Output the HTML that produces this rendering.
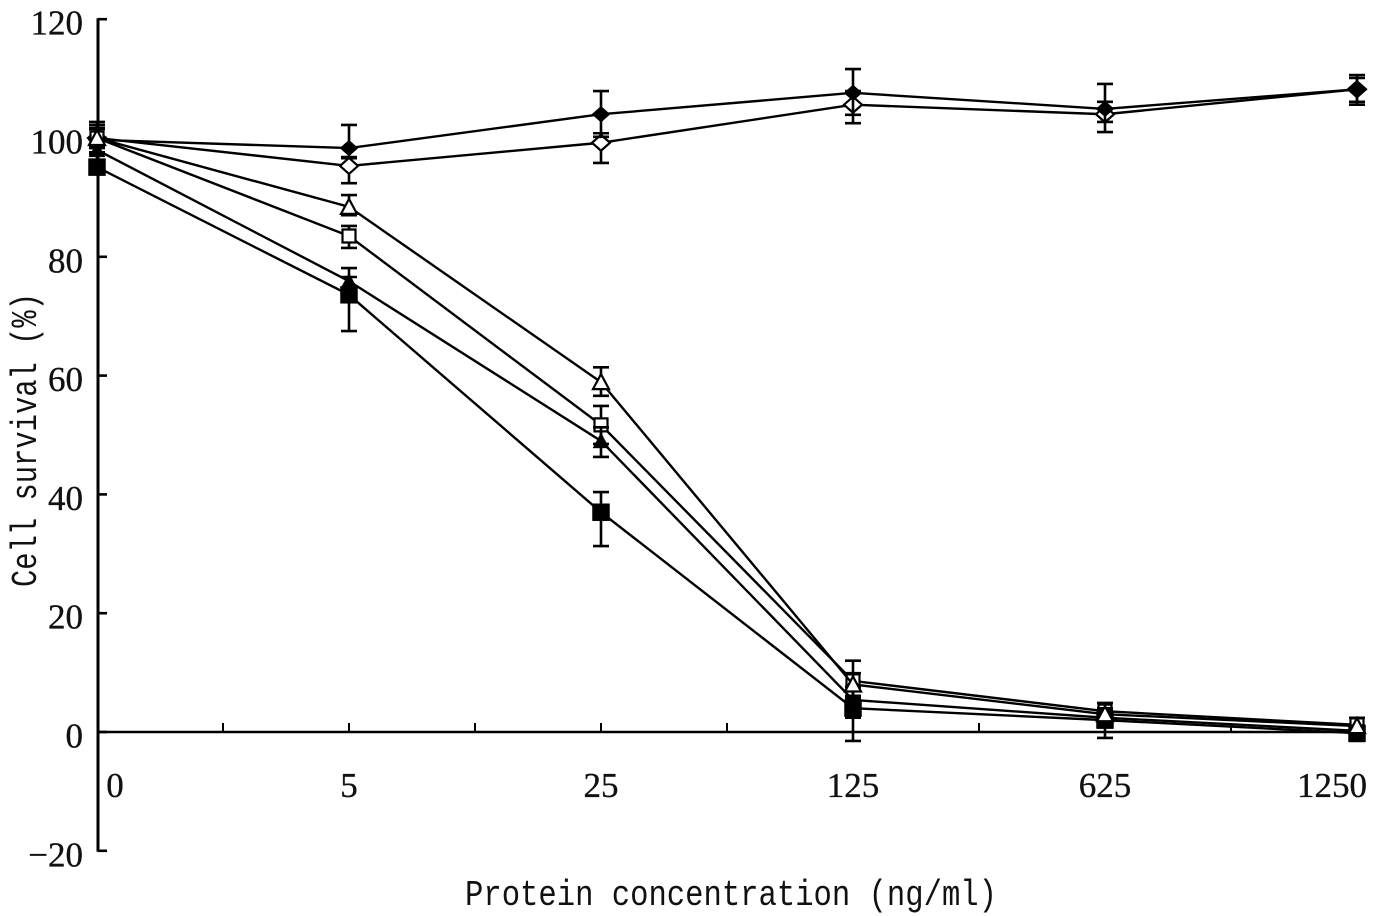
<!DOCTYPE html>
<html>
<head>
<meta charset="utf-8">
<title>Cell survival chart</title>
<style>
html,body{margin:0;padding:0;background:#fff;}
svg{display:block;}
text{fill:#111;}
.tick{font-family:"Liberation Serif",serif;font-size:35px;stroke:#111;stroke-width:.35px;}
.title{font-family:"Liberation Mono",monospace;font-size:36px;}
</style>
</head>
<body>
<svg id="chart" xmlns="http://www.w3.org/2000/svg" width="1374" height="916" viewBox="0 0 1374 916">
  <text class="title" x="465" y="905" textLength="532" lengthAdjust="spacingAndGlyphs">Protein concentration (ng/ml)</text>
  <text class="title" transform="translate(36,587) rotate(-90)" x="0" y="0" textLength="294" lengthAdjust="spacingAndGlyphs">Cell survival (%)</text>
</svg>
<script>
var categories = ["0", "5", "25", "125", "625", "1250"];
var yTicks = [120, 100, 80, 60, 40, 20, 0, -20];

var filledDiamond = [99.7, 98.3, 104.0, 107.6, 104.9, 108.2];
var filledDiamondUpper = [102.2, 102.2, 107.9, 111.6, 109.1, 110.6];
var filledDiamondLower = [97.6, 96.6, 100.2, 103.9, 102.7, 106.1];

var openDiamond = [100, 95.3, 99.2, 105.6, 104, 108.2];
var openDiamondUpper = [102.7, 96.8, 100.8, 107.9, 106.1, 110.1];
var openDiamondLower = [97.3, 92.4, 95.8, 102.5, 101, 105.6];

var openTriangle = [100, 88.4, 58.9, 8.0, 3.0, 1];
var openTriangleUpper = [101.7, 90.4, 61.4, 9.9, 4, 2.4];
var openTriangleLower = [98.3, 87, 56.6, 7.1, 1.3, -0.3];

var openSquare = [100, 83.5, 51.7, 8.6, 3.5, 1.2];
var openSquareUpper = [101.5, 85.2, 54.9, 12, 4.9, 2.4];
var openSquareLower = [98.5, 81.5, 48.5, 5.7, 1.9, 0];

var filledTriangle = [98, 75.9, 49, 5.4, 2.4, 0.2];
var filledTriangleUpper = [98.8, 78.1, 51.3, 7.6, 3.7, 1];
var filledTriangleLower = [96, 72.9, 46.3, 2.4, 1, -0.7];

var filledSquare = [95.1, 73.6, 37, 4, 2, -0.2];
var filledSquareUpper = [96.3, 76.6, 40.4, 6.1, 3.4, 1];
var filledSquareLower = [94.3, 67.5, 31.3, -1.5, -1, -1.5];

var seriesList = [
  {name: "open-diamond", shape: "diamond", fill: "#fff", v: openDiamond, up: openDiamondUpper, lo: openDiamondLower},
  {name: "filled-diamond", shape: "diamond", fill: "#000", v: filledDiamond, up: filledDiamondUpper, lo: filledDiamondLower},
  {name: "open-square", shape: "square", fill: "#fff", v: openSquare, up: openSquareUpper, lo: openSquareLower},
  {name: "filled-square", shape: "square", fill: "#000", v: filledSquare, up: filledSquareUpper, lo: filledSquareLower},
  {name: "filled-triangle", shape: "triangle", fill: "#000", v: filledTriangle, up: filledTriangleUpper, lo: filledTriangleLower},
  {name: "open-triangle", shape: "triangle", fill: "#fff", v: openTriangle, up: openTriangleUpper, lo: openTriangleLower}
];

var NS = "http://www.w3.org/2000/svg";
var svg = document.getElementById("chart");

function xScale(i) { return 97 + i * 252; }
function yScale(v) { return 732 - v * 5.94; }

function make(tag, attrs, parent) {
  var el = document.createElementNS(NS, tag);
  for (var k in attrs) { el.setAttribute(k, attrs[k]); }
  (parent || svg).appendChild(el);
  return el;
}

var axes = make("g", {stroke: "#000", fill: "none"});



var yAxis = make("line", {x1: 98, x2: 98, y1: yScale(120) - 1, y2: yScale(-20) + 1, "stroke-width": 3}, axes);



var xAxis = make("line", {x1: 98, x2: xScale(5) + 1, y1: yScale(0), y2: yScale(0), "stroke-width": 2.4}, axes);



yTicks.forEach(function (t) {
  var mark = make("line", {x1: 98, x2: 107, y1: yScale(t), y2: yScale(t), "stroke-width": 2.6}, axes);
  
  
  var label = make("text", {"class": "tick", x: 83, y: yScale(t) + 15.5, "text-anchor": "end"});
  
  
  label.textContent = t < 0 ? "\u2212" + Math.abs(t) : String(t);
});

for (var h = 1; h <= (categories.length - 1) * 2; h++) {
  var hx = xScale(h / 2);
  var xMark = make("line", {x1: hx, x2: hx, y1: yScale(0) - 9, y2: yScale(0), "stroke-width": 2}, axes);
  
  
}

categories.forEach(function (c, i) {
  var cx = Math.min(1332, Math.max(115, xScale(i)));
  var label = make("text", {"class": "tick", x: cx, y: 797, "text-anchor": "middle"});
  
  
  label.textContent = c;
});

function drawMarker(shape, x, y, fill, parent) {
  var d;
  if (shape === "square") {
    var s = fill === "#000" ? 8.5 : 6.5;
    d = "M" + (x - s) + " " + (y - s) + "H" + (x + s) + "V" + (y + s) + "H" + (x - s) + "Z";
  } else if (shape === "triangle") {
    d = "M" + x + " " + (y - 8) + "L" + (x + 8) + " " + (y + 7) + "H" + (x - 8) + "Z";
  } else {
    d = "M" + x + " " + (y - 8) + "L" + (x + 9) + " " + y + "L" + x + " " + (y + 8) + "L" + (x - 9) + " " + y + "Z";
  }
  return make("path", {d: d, fill: fill, stroke: "#000", "stroke-width": fill === "#000" ? 0.5 : 2.2}, parent);
}

seriesList.forEach(function (s) {
  var g = make("g", {});
  
  

  var pts = s.v.map(function (v, i) { return xScale(i) + "," + yScale(v); }).join(" ");
  var line = make("polyline", {points: pts, fill: "none", stroke: "#000", "stroke-width": 2.4}, g);
  
  

  s.v.forEach(function (v, i) {
    var x = xScale(i);
    var up = yScale(s.up[i]);
    var lo = yScale(s.lo[i]);
    var bar = make("path", {
      d: "M" + x + " " + up + "V" + lo +
         "M" + (x - 8) + " " + up + "H" + (x + 8) +
         "M" + (x - 8) + " " + lo + "H" + (x + 8),
      fill: "none", stroke: "#000", "stroke-width": 2.6
    }, g);
    
    

    var marker = drawMarker(s.shape, x, yScale(v), s.fill, g);
    
    
  });
});
</script>
</body>
</html>
